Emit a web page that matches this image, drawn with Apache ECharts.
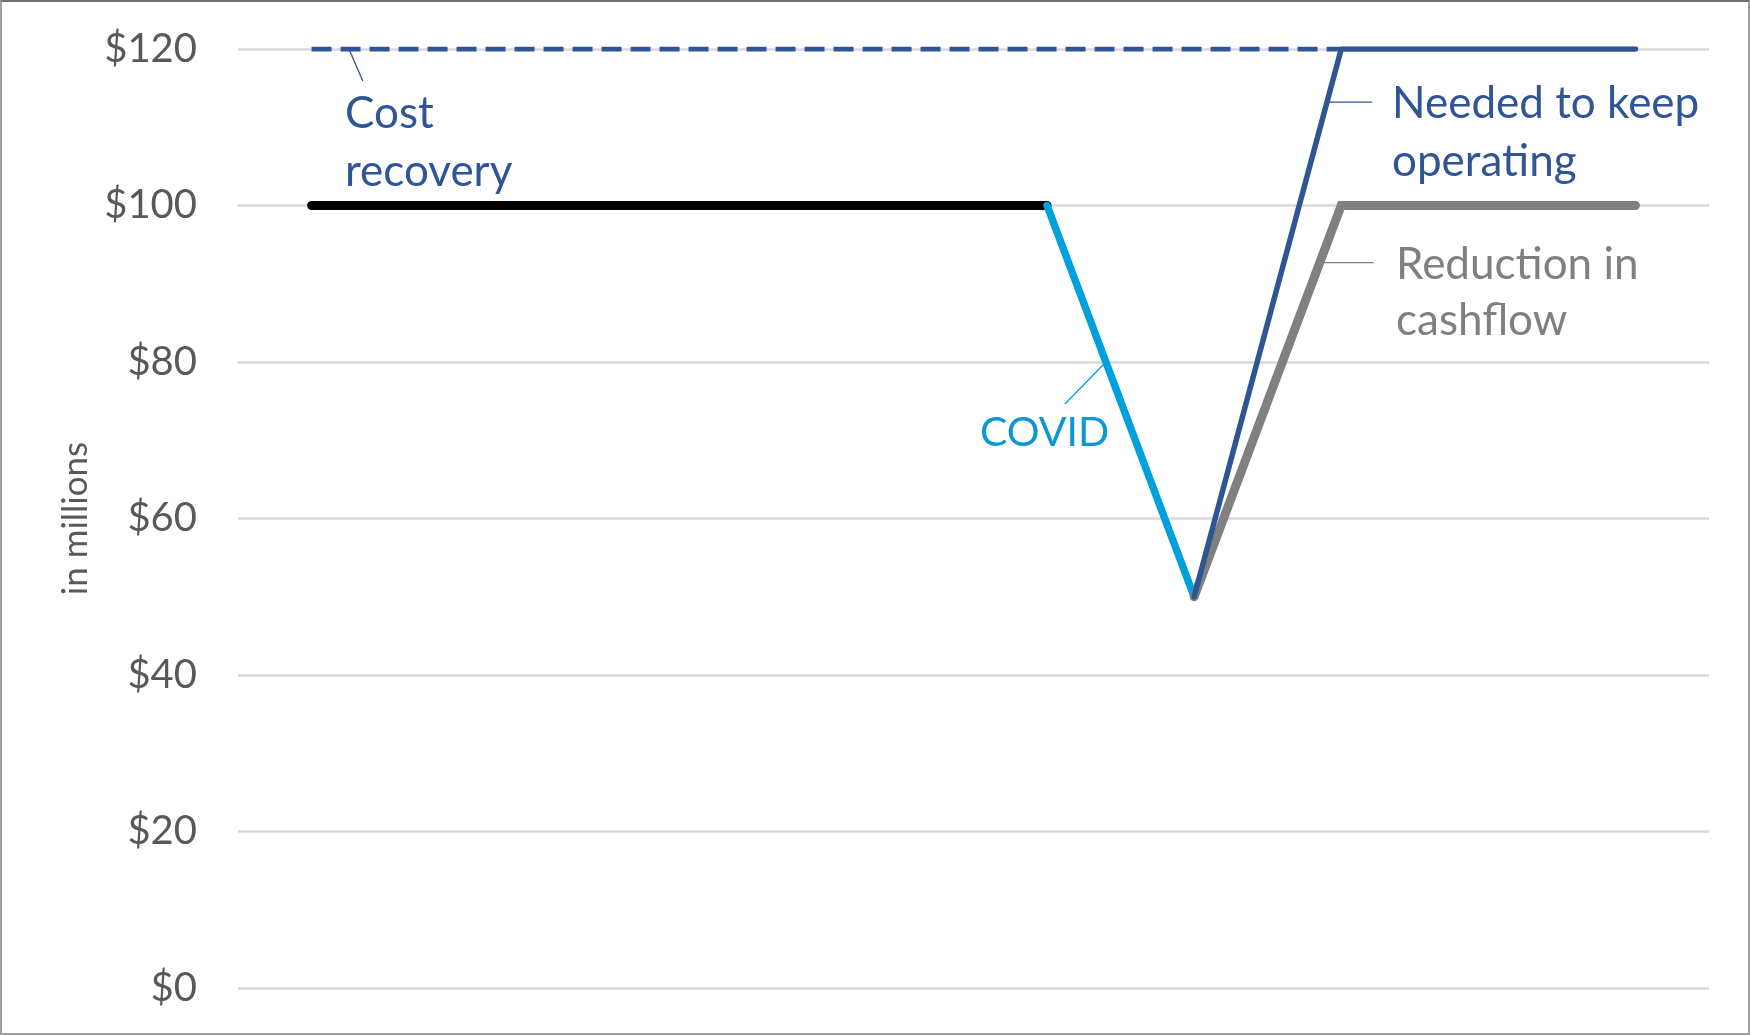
<!DOCTYPE html>
<html>
<head>
<meta charset="utf-8">
<script src="https://cdn.jsdelivr.net/npm/echarts@6/dist/echarts.min.js"></script>
<style>
html,body{margin:0;padding:0;background:#fff;}
#wrap{width:1750px;height:1035px;box-sizing:border-box;border:2px solid #A0A0A0;border-top-color:#707070;}
#chart{width:1746px;height:1031px;}
</style>
</head>
<body>
<div id="wrap"><div id="chart"></div></div>
<script>
// Data
const periods = ['1','2','3','4','5','6','7','8','9','10'];
const costRecovery = [120,120,120,120,120,120,120,120,null,null];
const baseline =     [100,100,100,100,100,100,null,null,null,null];
const covid =        [null,null,null,null,null,100,50,null,null,null];
const reduction =    [null,null,null,null,null,null,50,100,100,100];
const needed =       [null,null,null,null,null,null,50,120,120,120];
const yTicks = {min:0, max:120, interval:20};

const BLUE = '#2F5597', CYAN = '#00A0DC', GRAY = '#808080';
const FONT = 'Lato';

const chart = echarts.init(document.getElementById('chart'));
const option = {
  animation:false,
  textStyle:{fontFamily:FONT},
  grid:{left:236, right:39, top:47, bottom:45},
  xAxis:{type:'category', data:periods, boundaryGap:true,
    axisLine:{show:false}, axisTick:{show:false}, axisLabel:{show:false}, splitLine:{show:false}},
  yAxis:{type:'value', min:yTicks.min, max:yTicks.max, interval:yTicks.interval,
    name:'in millions', nameLocation:'middle', nameGap:144,
    nameTextStyle:{fontSize:35, color:'#595959', fontFamily:FONT},
    axisLine:{show:false}, axisTick:{show:false},
    axisLabel:{formatter:v=>'$'+v, fontSize:40, color:'#595959', margin:41, fontFamily:FONT},
    splitLine:{lineStyle:{color:'#D9D9D9', width:2.5}}},
  series:[
    {type:'line', data:costRecovery, symbol:'none', lineStyle:{color:BLUE, width:5, type:[20,9], cap:'butt'}, z:2},
    {type:'line', data:baseline, symbol:'none', lineStyle:{color:'#000', width:9, cap:'round'}, z:3},
    {type:'line', data:covid, symbol:'none', lineStyle:{color:CYAN, width:7.5, cap:'round'}, z:4},
    {type:'line', data:reduction, symbol:'none', lineStyle:{color:GRAY, width:9, cap:'round', join:'miter'}, z:5},
    {type:'line', data:needed, symbol:'none', lineStyle:{color:BLUE, width:5.5, cap:'round'}, z:6}
  ]
};
chart.setOption(option);

// point on a segment between two data points at a given value
function onSeg(i0,v0,i1,v1,v){
  const a = chart.convertToPixel({gridIndex:0},[i0,v0]);
  const b = chart.convertToPixel({gridIndex:0},[i1,v1]);
  const t = (v - v0)/(v1 - v0);
  return [a[0]+(b[0]-a[0])*t, a[1]+(b[1]-a[1])*t];
}
const p0 = chart.convertToPixel({gridIndex:0},[0,120]);
const p1 = chart.convertToPixel({gridIndex:0},[1,120]);
const costAnchor = [p0[0]+(p1[0]-p0[0])*0.26, p0[1]+2];
const neededAnchor = onSeg(6,50,7,120,113.2);
const redAnchor = onSeg(6,50,7,100,92.7);
const covidAnchor = onSeg(5,100,6,50,80);

function txt(x,y,s,color,size){
  return {type:'text', x:x, y:y, style:{text:s, fill:color, font:(size||44)+'px '+FONT, textVerticalAlign:'middle'}, z:10};
}
function ln(a,b,color){
  return {type:'line', shape:{x1:a[0],y1:a[1],x2:b[0],y2:b[1]}, style:{stroke:color, lineWidth:1.3}, z:10};
}
chart.setOption({graphic:[
  ln(costAnchor,[costAnchor[0]+13,costAnchor[1]+30],BLUE),
  txt(343,112,'Cost',BLUE), txt(343,170,'recovery',BLUE),
  ln(neededAnchor,[neededAnchor[0]+45,neededAnchor[1]],BLUE),
  txt(1390,102,'Needed to keep',BLUE), txt(1390,160,'operating',BLUE),
  ln(redAnchor,[redAnchor[0]+54,redAnchor[1]],'#7F7F7F'),
  txt(1394,263,'Reduction in','#7F7F7F'), txt(1394,319,'cashflow','#7F7F7F'),
  ln(covidAnchor,[covidAnchor[0]-41,covidAnchor[1]+42],CYAN),
  txt(978,431,'COVID','#0C96D6',41)
]});
</script>
</body>
</html>
